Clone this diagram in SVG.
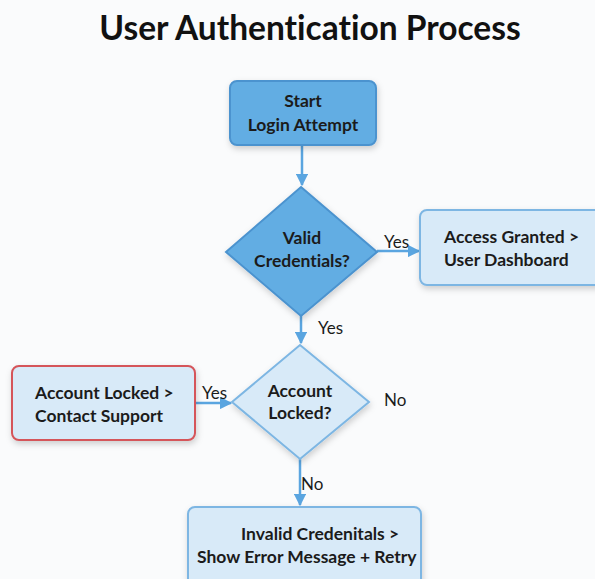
<svg xmlns="http://www.w3.org/2000/svg" width="595" height="579" viewBox="0 0 595 579">
<style>
text{font-variant-ligatures:none}
.t{font-family:Lato,"Open Sans","Liberation Sans",sans-serif;font-size:17.5px;font-weight:700;fill:#1b1b1b}
.title{font-family:Lato,"Open Sans","Liberation Sans",sans-serif;font-size:33.5px;font-weight:700;fill:#111}
.lbl{font-family:Lato,"Open Sans","Liberation Sans",sans-serif;font-size:17px;fill:#1b1b1b}
.dark{fill:#62ade3;stroke:#4b93cf;stroke-width:2}
.light{fill:#d8eaf8;stroke:#7db6e3;stroke-width:2}
.red{fill:#d8eaf8;stroke:#d5545a;stroke-width:2}
.c{stroke:#5aa5e0;stroke-width:2.5;fill:none}
</style>
<defs>
<marker id="ah" viewBox="0 0 10 10" refX="9" refY="5" markerWidth="5" markerHeight="5" orient="auto" markerUnits="strokeWidth">
<path d="M0,0 L10,5 L0,10 z" fill="#5aa5e0"/>
</marker>
<filter id="sh" x="-10%" y="-10%" width="130%" height="140%">
<feDropShadow dx="1" dy="3" stdDeviation="3" flood-color="#000" flood-opacity="0.18"/>
</filter>
</defs>
<rect width="595" height="579" fill="#fafbfc"/>
<text class="title" x="310" y="40" text-anchor="middle">User Authentication Process</text>

<g id="connectors">
<line class="c" x1="302" y1="145" x2="302" y2="185" marker-end="url(#ah)"/>
<line class="c" x1="377" y1="251" x2="419" y2="251" marker-end="url(#ah)"/>
<line class="c" x1="301" y1="316" x2="301" y2="343" marker-end="url(#ah)"/>
<line class="c" x1="195" y1="403" x2="231" y2="403" marker-end="url(#ah)"/>
<line class="c" x1="300" y1="459" x2="300" y2="505" marker-end="url(#ah)"/>
<text class="lbl" x="384" y="248">Yes</text>
<text class="lbl" x="318" y="334">Yes</text>
<text class="lbl" x="202" y="399">Yes</text>
<text class="lbl" x="384" y="406">No</text>
<text class="lbl" x="301" y="490">No</text>
</g>

<g id="start">
<rect class="dark" x="230" y="81" width="146" height="64" rx="7" filter="url(#sh)"/>
<text class="t" x="303" y="107" text-anchor="middle">Start</text>
<text class="t" x="303" y="131" text-anchor="middle">Login Attempt</text>
</g>

<g id="valid">
<polygon class="dark" points="301,187 377,252 301,316 226,252" filter="url(#sh)"/>
<text class="t" x="302" y="244" text-anchor="middle">Valid</text>
<text class="t" x="302" y="267" text-anchor="middle">Credentials?</text>
</g>

<g id="granted">
<rect class="light" x="420" y="210" width="185" height="75" rx="7" filter="url(#sh)"/>
<text class="t" x="444" y="243">Access Granted &gt;</text>
<text class="t" x="444" y="266">User Dashboard</text>
</g>

<g id="locked">
<polygon class="light" points="300,345 369,402 300,459 232,402" filter="url(#sh)"/>
<text class="t" x="300" y="397" text-anchor="middle">Account</text>
<text class="t" x="300" y="419" text-anchor="middle">Locked?</text>
</g>

<g id="support">
<rect class="red" x="12" y="366" width="183" height="74" rx="7" filter="url(#sh)"/>
<text class="t" x="35" y="399">Account Locked &gt;</text>
<text class="t" x="35" y="422">Contact Support</text>
</g>

<g id="invalid">
<rect class="light" x="188" y="507" width="233" height="80" rx="7" filter="url(#sh)"/>
<text class="t" x="241" y="540">Invalid Credenitals &gt;</text>
<text class="t" x="197" y="563">Show Error Message + Retry</text>
</g>
</svg>
